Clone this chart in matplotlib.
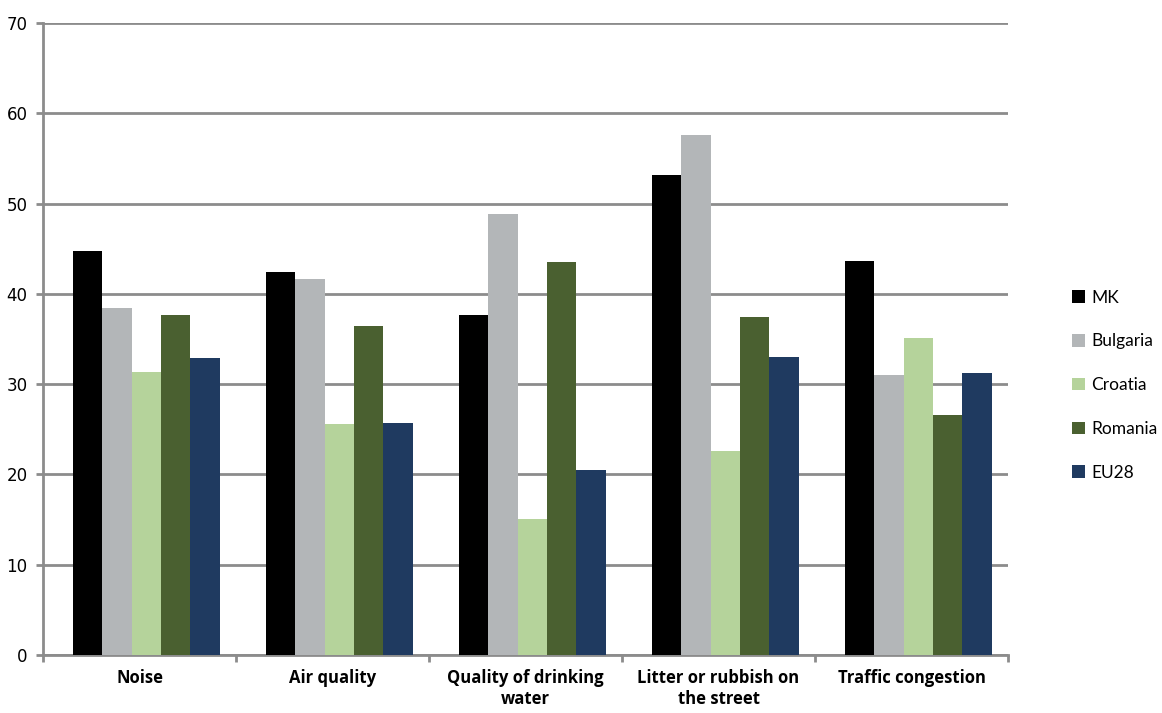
import matplotlib.pyplot as plt
import numpy as np

categories = ["Noise", "Air quality", "Quality of drinking\nwater",
              "Litter or rubbish on\nthe street", "Traffic congestion"]
series = ["MK", "Bulgaria", "Croatia", "Romania", "EU28"]
mk = [44.7, 42.4, 37.7, 53.2, 43.6]
bulgaria = [38.4, 41.6, 48.9, 57.6, 31.0]
croatia = [31.4, 25.6, 15.1, 22.6, 35.1]
romania = [37.7, 36.4, 43.5, 37.4, 26.6]
eu28 = [32.9, 25.7, 20.5, 33.0, 31.2]
colors = ["#000000", "#b3b6b8", "#b5d39b", "#4a6030", "#1f3a60"]

values = [mk, bulgaria, croatia, romania, eu28]

fig = plt.figure(figsize=(11.62, 7.13), dpi=100)
ax = fig.add_axes([43 / 1162, 1 - 655 / 713, (1008 - 43) / 1162, (655 - 23) / 713])

x = np.arange(len(categories))
width = 0.152
for i, (name, vals) in enumerate(zip(series, values)):
    offset = (i - 2) * width + 0.035
    ax.bar(x + offset, vals, width, color=colors[i], label=name, zorder=3)

ax.set_xlim(-0.5, len(categories) - 0.5)
ax.set_ylim(0, 70)
ax.set_yticks(range(0, 71, 10))
ax.yaxis.grid(True, color="#8c8c8c", linewidth=2, zorder=0)
ax.set_axisbelow(True)

for side in ["top", "right"]:
    ax.spines[side].set_visible(False)
for side in ["left", "bottom"]:
    ax.spines[side].set_color("#8c8c8c")
    ax.spines[side].set_linewidth(2)

ax.set_xticks(x)
ax.set_xticklabels(categories, fontsize=12, fontweight="bold", family="Open Sans")
ax.tick_params(axis="x", length=0, pad=10)
ax.set_xticks(np.arange(-0.5, len(categories)), minor=True)
ax.tick_params(axis="x", which="minor", length=5, width=2, color="#8c8c8c")
ax.tick_params(axis="y", length=5, width=2, color="#8c8c8c", labelsize=12, pad=6)
for lbl in ax.get_yticklabels():
    lbl.set_family("DejaVu Sans")

ax.legend(loc="center left", bbox_to_anchor=(1.05, 0.427), frameon=False,
          handlelength=0.75, handleheight=0.75, handletextpad=0.35,
          labelspacing=1.6, prop={"family": "Lato", "size": 12.5})

plt.savefig("out.png", dpi=100)
